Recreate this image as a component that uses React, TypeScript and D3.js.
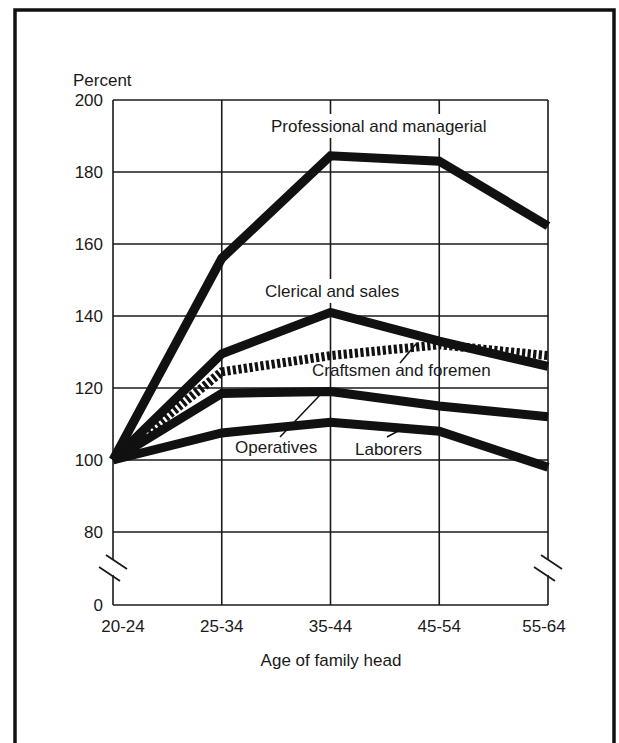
import React, { useEffect, useRef } from 'react';
import * as d3 from 'd3';

const ageGroups = ['20-24', '25-34', '35-44', '45-54', '55-64'];
const professional = [100, 156, 184.5, 183, 165];
const clerical = [100, 129.5, 141, 133, 126];
const craftsmen = [100, 124.5, 129, 132, 129];
const operatives = [100, 118.5, 119, 115, 112];
const laborers = [100, 107.5, 110.5, 108, 98];
const seriesNames = ['Professional and managerial', 'Clerical and sales', 'Craftsmen and foremen', 'Operatives', 'Laborers'];
const yTicks = [0, 80, 100, 120, 140, 160, 180, 200];
const yAxisTitle = 'Percent';
const xAxisTitle = 'Age of family head';

const W = 619;
const H = 743;
const FONT = '"Liberation Sans", Arial, Helvetica, sans-serif';

export default function App() {
  const ref = useRef<SVGSVGElement | null>(null);

  useEffect(() => {
    const svg = d3.select(ref.current);
    svg.selectAll('*').remove();

    const left = 113;
    const right = 548;
    const x = d3.scalePoint<string>().domain(ageGroups).range([left, right]);
    const y = d3.scaleLinear().domain([0, 80, 200]).range([605, 532, 100]);

    svg.append('rect').attr('width', W).attr('height', H).attr('fill', '#fff');

    // outer frame
    svg.append('rect')
      .attr('x', 15).attr('y', 10).attr('width', 599).attr('height', 760)
      .attr('fill', 'none').attr('stroke', '#111').attr('stroke-width', 3.5);

    const grid = svg.append('g').attr('stroke', '#1a1a1a').attr('stroke-width', 1.6).attr('fill', 'none');

    // horizontal gridlines
    yTicks.forEach((t) => {
      grid.append('line').attr('x1', left).attr('x2', right).attr('y1', y(t)).attr('y2', y(t));
    });
    // interior vertical gridlines
    ageGroups.slice(1, -1).forEach((g) => {
      grid.append('line').attr('x1', x(g)!).attr('x2', x(g)!).attr('y1', y(200)).attr('y2', y(0));
    });
    // edge axes with breaks
    [left, right].forEach((ax) => {
      grid.append('line').attr('x1', ax).attr('x2', ax).attr('y1', y(200)).attr('y2', 560);
      grid.append('line').attr('x1', ax).attr('x2', ax).attr('y1', 575).attr('y2', y(0));
      grid.append('line').attr('x1', ax - 7).attr('x2', ax + 14).attr('y1', 555).attr('y2', 569).attr('stroke-width', 1.8);
      grid.append('line').attr('x1', ax - 14).attr('x2', ax + 7).attr('y1', 567).attr('y2', 581).attr('stroke-width', 1.8);
    });

    // y tick labels
    const txt = svg.append('g').attr('font-family', FONT).attr('font-size', 17).attr('fill', '#1a1a1a');
    yTicks.forEach((t) => {
      txt.append('text').attr('x', left - 10).attr('y', y(t)).attr('dy', '0.36em')
        .attr('text-anchor', 'end').text(String(t));
    });
    txt.append('text').attr('x', 73).attr('y', 86).text(yAxisTitle);

    // x tick labels
    ageGroups.forEach((g, i) => {
      const dx = i === 0 ? 10 : i === ageGroups.length - 1 ? -4 : 0;
      txt.append('text').attr('x', x(g)! + dx).attr('y', 632).attr('text-anchor', 'middle').text(g);
    });
    txt.append('text').attr('x', 331).attr('y', 666).attr('text-anchor', 'middle').text(xAxisTitle);

    // labels with white background (drawn before lines)
    const boxed = [
      { name: seriesNames[0], x: 271, y: 132 },
      { name: seriesNames[1], x: 265, y: 297 },
    ];
    boxed.forEach((b) => {
      const t = txt.append('text').attr('x', b.x).attr('y', b.y).text(b.name);
      const bb = (t.node() as SVGTextElement).getBBox();
      txt.insert('rect', 'text')
        .attr('x', bb.x - 3).attr('y', bb.y - 3).attr('width', bb.width + 6).attr('height', bb.height + 5)
        .attr('fill', '#fff');
    });

    const line = d3.line<number>().x((_, i) => x(ageGroups[i])!).y((d) => y(d));
    const series = [professional, clerical, craftsmen, operatives, laborers];
    const lines = svg.append('g').attr('fill', 'none').attr('stroke', '#111');
    [0, 1, 3, 4].forEach((i) => {
      lines.append('path').attr('d', line(series[i])!)
        .attr('stroke-width', 9).attr('stroke-linejoin', 'miter').attr('stroke-linecap', 'butt');
    });
    lines.append('path').attr('d', line(series[2])!)
      .attr('stroke-width', 9).attr('stroke-dasharray', '3.2 2.4').attr('stroke-linecap', 'butt');

    // other labels
    const lab = svg.append('g').attr('font-family', FONT).attr('font-size', 17).attr('fill', '#1a1a1a');
    lab.append('text').attr('x', 312).attr('y', 376).text(seriesNames[2]);
    lab.append('text').attr('x', 235).attr('y', 453).text(seriesNames[3]);
    lab.append('text').attr('x', 355).attr('y', 455).text(seriesNames[4]);

    // leader lines
    const lead = svg.append('g').attr('stroke', '#111').attr('stroke-width', 1.5);
    lead.append('line').attr('x1', 400).attr('y1', 363).attr('x2', 416).attr('y2', 344);
    lead.append('line').attr('x1', 280).attr('y1', 437).attr('x2', 320).attr('y2', 395);
    lead.append('line').attr('x1', 387).attr('y1', 437).attr('x2', 400).attr('y2', 430);
  }, []);

  return (
    <svg ref={ref} width={W} height={H} style={{ position: 'absolute', left: 0, top: 0, display: 'block' }} />
  );
}
